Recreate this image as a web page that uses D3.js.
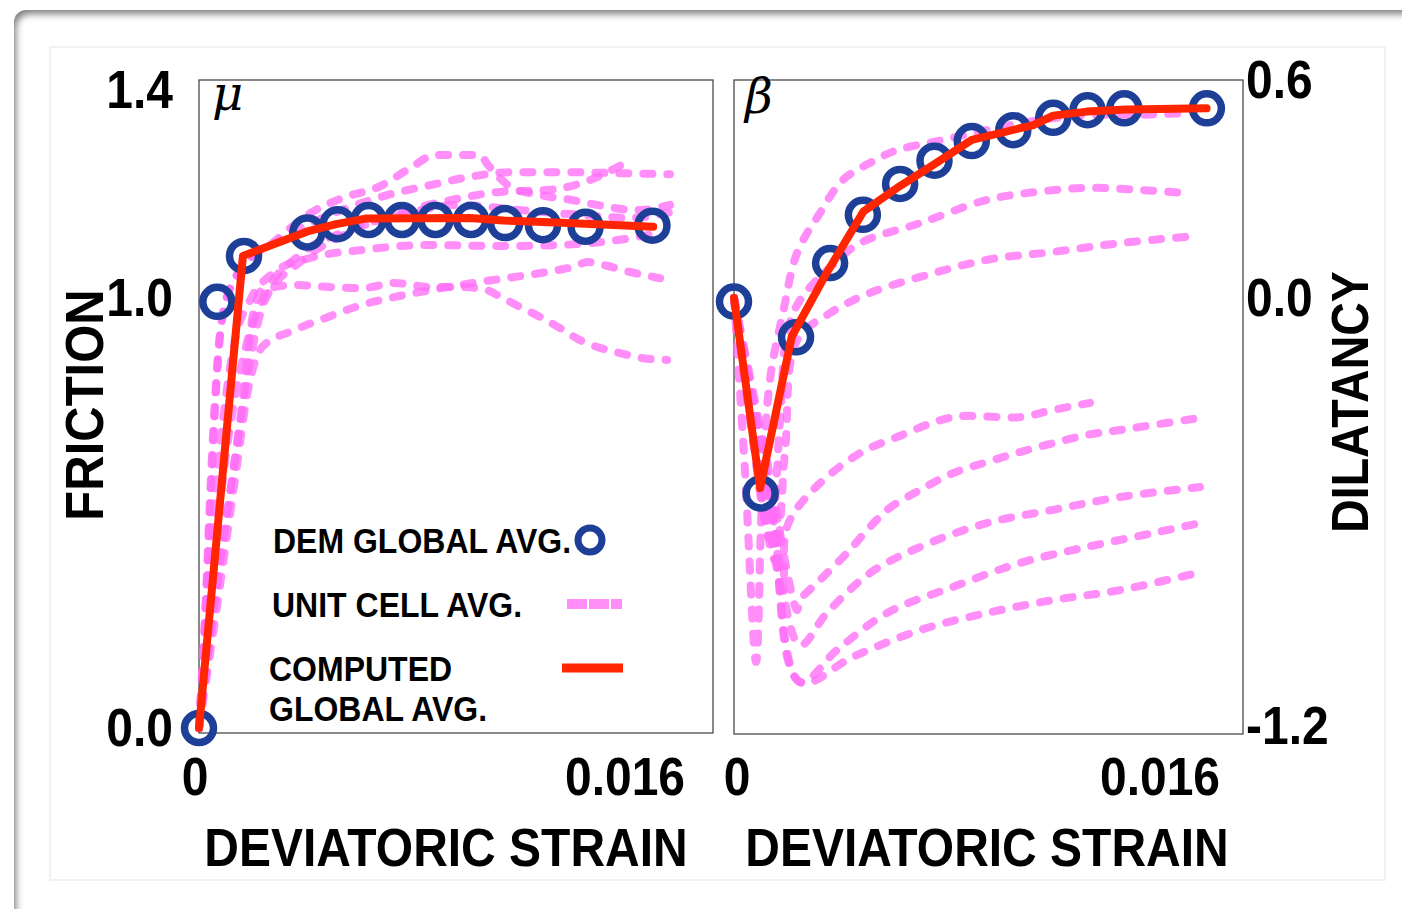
<!DOCTYPE html>
<html>
<head>
<meta charset="utf-8">
<script src="https://cdn.jsdelivr.net/npm/d3@7/dist/d3.min.js"></script>
<style>
  html, body { margin: 0; padding: 0; background: #fff; overflow: hidden; }
  #wrap { position: relative; width: 1402px; height: 909px; overflow: hidden; }
  #frame {
    position: absolute; left: 14px; top: 10px; width: 1500px; height: 1000px;
    border-radius: 12px; box-shadow: inset 4px 6px 7px -2px rgba(0,0,0,0.5);
  }
  svg { position: absolute; left: 0; top: 0; }
</style>
</head>
<body>
<div id="wrap"><div id="frame"></div></div>
<script>
// Strain values are given in units of 1e-3.
const strainTicks = [0, 0.016];
const frictionTicks = [0.0, 1.0, 1.4];
const dilatancyTicks = [-1.2, 0.0, 0.6];

// Friction (mu): DEM global average
const muDemStrain = [0, 0.69, 1.69, 4.07, 5.21, 6.37, 7.62, 8.88, 10.22, 11.50, 12.92, 14.52, 17.03];
const muDem       = [0, 0.991, 1.081, 1.126, 1.142, 1.150, 1.150, 1.150, 1.150, 1.144, 1.140, 1.137, 1.139];
// Friction: computed global average
const muCalcStrain = [0, 1.65, 4.07, 5.15, 6.30, 10.18, 11.43, 13.43, 17.06];
const muCalc       = [0, 1.081, 1.128, 1.142, 1.153, 1.154, 1.149, 1.145, 1.137];
// Friction: unit cell averages
const muCellStrain = [
  [0, 0.23, 0.41, 0.60, 0.86, 1.54, 2.67, 4.24, 5.48, 6.72, 8.00, 8.86, 10.55, 10.85, 11.76, 12.81, 14.05, 14.95, 16.45, 17.69],
  [0, 0.26, 0.49, 0.71, 1.01, 1.73, 3.04, 4.92, 6.80, 8.68, 10.18, 11.68, 13.56, 15.81, 17.69],
  [0, 0.60, 1.35, 1.92, 2.48, 3.79, 5.67, 7.55, 9.43, 11.31, 13.18, 14.69, 16.08],
  [0, 0.41, 0.86, 1.35, 1.92, 2.85, 4.17, 6.05, 8.68, 11.31, 13.56, 15.81, 17.43],
  [0, 0.49, 1.09, 1.73, 2.48, 3.79, 5.67, 7.55, 9.80, 12.06, 14.31, 16.19, 17.69],
  [0, 0.60, 1.24, 1.73, 1.99, 2.37, 3.61, 4.92, 6.12, 7.36, 8.68, 9.92, 10.82, 11.19, 12.06, 12.81, 13.56, 14.31, 15.06, 15.81, 16.68, 17.58],
  [0, 0.71, 1.35, 1.84, 2.37, 3.61, 4.85, 6.12, 7.36, 8.68, 10.29, 11.79, 13.07, 14.05, 14.61, 15.32, 16.19, 17.32]
];
const muCellValues = [
  [0, 0.251, 0.530, 0.763, 0.949, 1.054, 1.102, 1.165, 1.194, 1.213, 1.252, 1.275, 1.275, 1.256, 1.212, 1.198, 1.188, 1.179, 1.169, 1.179],
  [0, 0.298, 0.600, 0.856, 0.995, 1.063, 1.112, 1.160, 1.194, 1.217, 1.233, 1.242, 1.242, 1.240, 1.238],
  [0, 0.298, 0.623, 0.856, 0.995, 1.069, 1.127, 1.165, 1.188, 1.204, 1.208, 1.227, 1.262],
  [0, 0.391, 0.693, 0.902, 0.995, 1.050, 1.077, 1.092, 1.102, 1.100, 1.102, 1.112, 1.127],
  [0, 0.344, 0.670, 0.879, 1.006, 1.083, 1.131, 1.160, 1.179, 1.169, 1.160, 1.154, 1.165],
  [0, 0.298, 0.577, 0.809, 0.949, 1.015, 1.025, 1.021, 1.019, 1.029, 1.021, 1.021, 1.015, 1.006, 0.979, 0.956, 0.930, 0.902, 0.884, 0.872, 0.860, 0.856],
  [0, 0.298, 0.577, 0.786, 0.886, 0.926, 0.956, 0.984, 1.002, 1.015, 1.029, 1.040, 1.050, 1.060, 1.069, 1.062, 1.050, 1.038]
];

// Dilatancy (beta): DEM global average
const betaDemStrain = [0, 1.00, 2.33, 3.61, 4.84, 6.24, 7.53, 8.93, 10.49, 11.99, 13.28, 14.66, 17.76];
const betaDem       = [-0.01, -0.548, -0.110, 0.096, 0.229, 0.314, 0.378, 0.432, 0.462, 0.496, 0.517, 0.522, 0.522];
// Dilatancy: computed global average
const betaCalcStrain = [0, 0.98, 2.17, 3.48, 4.86, 6.23, 7.47, 8.93, 11.24, 11.99, 13.25, 14.75, 17.75];
const betaCalc       = [0, -0.533, -0.108, 0.069, 0.238, 0.308, 0.366, 0.435, 0.476, 0.502, 0.513, 0.519, 0.522];
// Dilatancy: unit cell averages
const betaCellStrain = [
  [0, 0.41, 0.83, 1.05, 1.35, 1.84, 2.37, 3.23, 4.09, 5.11, 6.12, 7.47, 8.98, 10.37, 11.98, 13.26, 15.14, 17.01],
  [0, 0.60, 1.35, 1.73, 1.99, 2.48, 3.61, 4.73, 6.99, 9.50, 11.38, 13.26, 15.14, 16.86],
  [0, 0.68, 1.54, 1.92, 2.37, 3.61, 5.11, 6.99, 9.50, 11.98, 14.50, 17.39],
  [0, 0.98, 1.84, 1.99, 2.97, 4.73, 6.12, 8.23, 10.74, 11.98, 13.37],
  [0, 1.16, 2.37, 2.48, 3.23, 4.24, 5.11, 5.75, 6.99, 8.23, 9.50, 10.74, 11.98, 13.26, 14.50, 17.50],
  [0, 1.28, 2.48, 3.49, 5.11, 6.99, 9.50, 11.98, 14.50, 17.50],
  [0, 1.35, 2.48, 3.87, 5.75, 8.23, 10.74, 13.26, 15.74, 17.50],
  [0, 1.43, 2.48, 4.47, 6.99, 9.50, 11.98, 14.50, 17.39]
];
const betaCellValues = [
  [0, -0.482, -1.020, -0.566, -0.230, -0.042, 0.124, 0.234, 0.325, 0.372, 0.407, 0.429, 0.454, 0.476, 0.495, 0.504, 0.504, 0.509],
  [0, -0.342, -0.678, -0.342, -0.098, -0.006, 0.085, 0.151, 0.206, 0.270, 0.292, 0.303, 0.298, 0.289],
  [0, -0.370, -0.735, -0.426, -0.118, -0.042, 0.014, 0.058, 0.105, 0.127, 0.151, 0.171],
  [0, -0.482, -0.819, -0.642, -0.538, -0.435, -0.390, -0.334, -0.334, -0.314, -0.294],
  [0, -0.426, -0.875, -0.847, -0.791, -0.715, -0.642, -0.594, -0.538, -0.491, -0.460, -0.432, -0.407, -0.384, -0.370, -0.336],
  [0, -0.510, -0.973, -0.883, -0.771, -0.698, -0.631, -0.594, -0.558, -0.530],
  [0, -0.566, -1.077, -0.987, -0.883, -0.810, -0.743, -0.698, -0.659, -0.631],
  [0, -0.594, -1.077, -1.006, -0.931, -0.883, -0.847, -0.819, -0.771]
];

const legendLabels = ["DEM GLOBAL AVG.", "UNIT CELL AVG.", "COMPUTED", "GLOBAL AVG."];

const C = {
  dem: "#1e3f98",
  calc: "#ff2500",
  cell: "#ff6ef6",
  text: "#000"
};
const FONT = "'Liberation Sans', Arial, Helvetica, sans-serif";

const W = 1402, H = 909;
const svg = d3.select("#wrap").append("svg").attr("width", W).attr("height", H);

// inner card
svg.append("rect").attr("x", 50).attr("y", 47).attr("width", 1335).attr("height", 833)
  .attr("fill", "#fff").attr("stroke", "#eeeeee").attr("stroke-width", 1.5);

const toPts = (xs, ys) => xs.map((s, i) => [s / 1000, ys[i]]);

// Bold text slightly stretched vertically
function label(x, y, txt, size, anchor, rotate, sy) {
  const g = svg.append("g")
    .attr("transform", `translate(${x},${y}) rotate(${rotate || 0}) scale(1,${sy || 1.1})`);
  g.append("text")
    .attr("x", 0).attr("y", 0)
    .attr("text-anchor", anchor)
    .attr("dominant-baseline", "central")
    .attr("font-family", FONT)
    .attr("font-weight", "bold")
    .attr("font-size", size)
    .attr("fill", C.text)
    .text(txt);
  return g;
}

function panel(cfg) {
  const { x, y, box, cellS, cellV, calcS, calcV, demS, demV, curve } = cfg;
  // frame
  svg.append("rect")
    .attr("x", box[0]).attr("y", box[1])
    .attr("width", box[2] - box[0]).attr("height", box[3] - box[1])
    .attr("fill", "none").attr("stroke", "#4a4a4a").attr("stroke-width", 1.3);

  const line = d3.line().x(d => x(d[0])).y(d => y(d[1]));
  const g = svg.append("g");

  // unit cell averages
  const cellLine = d3.line().x(d => x(d[0])).y(d => y(d[1])).curve(curve);
  cellS.forEach((s, i) => {
    g.append("path")
      .attr("d", cellLine(toPts(s, cellV[i])))
      .attr("fill", "none")
      .attr("stroke", C.cell)
      .attr("stroke-opacity", 0.78)
      .attr("stroke-width", 8)
      .attr("stroke-linecap", "round")
      .attr("stroke-linejoin", "round")
      .attr("stroke-dasharray", "9,15");
  });

  // DEM global average rings
  g.selectAll("circle.dem").data(toPts(demS, demV)).join("circle")
    .attr("class", "dem")
    .attr("cx", d => x(d[0])).attr("cy", d => y(d[1]))
    .attr("r", 14.5)
    .attr("fill", "none")
    .attr("stroke", C.dem)
    .attr("stroke-width", 7.5);

  // computed global average
  g.append("path")
    .attr("d", line(toPts(calcS, calcV)))
    .attr("fill", "none")
    .attr("stroke", C.calc)
    .attr("stroke-width", 8)
    .attr("stroke-linejoin", "round")
    .attr("stroke-linecap", "round");
}

// Friction panel
const xMu = d3.scaleLinear().domain([0, 0.016]).range([199, 625]);
const yMu = d3.scaleLinear().domain([0, 1.0, 1.4]).range([728, 298, 90]);
panel({
  x: xMu, y: yMu, box: [199, 80, 713, 733],
  cellS: muCellStrain, cellV: muCellValues,
  calcS: muCalcStrain, calcV: muCalc,
  demS: muDemStrain, demV: muDem,
  curve: d3.curveMonotoneX
});

// Dilatancy panel
const xBeta = d3.scaleLinear().domain([0, 0.016]).range([734, 1160]);
const yBeta = d3.scaleLinear().domain([-1.2, 0.0, 0.6]).range([726, 298, 80]);
panel({
  x: xBeta, y: yBeta, box: [734, 80, 1243, 734],
  cellS: betaCellStrain, cellV: betaCellValues,
  calcS: betaCalcStrain, calcV: betaCalc,
  demS: betaDemStrain, demV: betaDem,
  curve: d3.curveCatmullRom.alpha(0.5)
});

// tick labels
frictionTicks.forEach(t => label(173, yMu(t), t.toFixed(1), 48, "end"));
dilatancyTicks.forEach(t => label(1246, yBeta(t), t.toFixed(1), 48, "start"));
strainTicks.forEach(t => {
  const txt = t === 0 ? "0" : String(t);
  label(xMu(t) - (t === 0 ? 4 : 0), 777, txt, 48, "middle");
  label(xBeta(t) + (t === 0 ? 3 : 0), 777, txt, 48, "middle");
});

// axis titles
label(446, 848, "DEVIATORIC STRAIN", 48, "middle");
label(987, 848, "DEVIATORIC STRAIN", 48, "middle");
label(84, 405, "FRICTION", 49, "middle", -90);
label(1350, 402, "DILATANCY", 46.5, "middle", -90);

// panel symbols
svg.append("text").attr("x", 212).attr("y", 110)
  .attr("font-family", "'DejaVu Serif', 'Liberation Serif', serif")
  .attr("font-style", "italic").attr("font-size", 48).attr("fill", "#000").text("μ");
svg.append("text").attr("x", 745).attr("y", 113)
  .attr("font-family", "'DejaVu Serif', 'Liberation Serif', serif")
  .attr("font-style", "italic").attr("font-size", 48).attr("fill", "#000").text("β");

// legend
label(273, 540, legendLabels[0], 32, "start", 0, 1.12);
label(272, 604, legendLabels[1], 32, "start", 0, 1.12);
label(269, 668, legendLabels[2], 32, "start", 0, 1.12);
label(269, 708, legendLabels[3], 32, "start", 0, 1.12);

svg.append("circle").attr("cx", 590).attr("cy", 540).attr("r", 12)
  .attr("fill", "none").attr("stroke", C.dem).attr("stroke-width", 7);
svg.append("line").attr("x1", 567).attr("x2", 622).attr("y1", 604).attr("y2", 604)
  .attr("stroke", C.cell).attr("stroke-opacity", 0.78).attr("stroke-width", 10)
  .attr("stroke-dasharray", "20,2");
svg.append("line").attr("x1", 562).attr("x2", 623).attr("y1", 668).attr("y2", 668)
  .attr("stroke", C.calc).attr("stroke-width", 9);
</script>
</body>
</html>
